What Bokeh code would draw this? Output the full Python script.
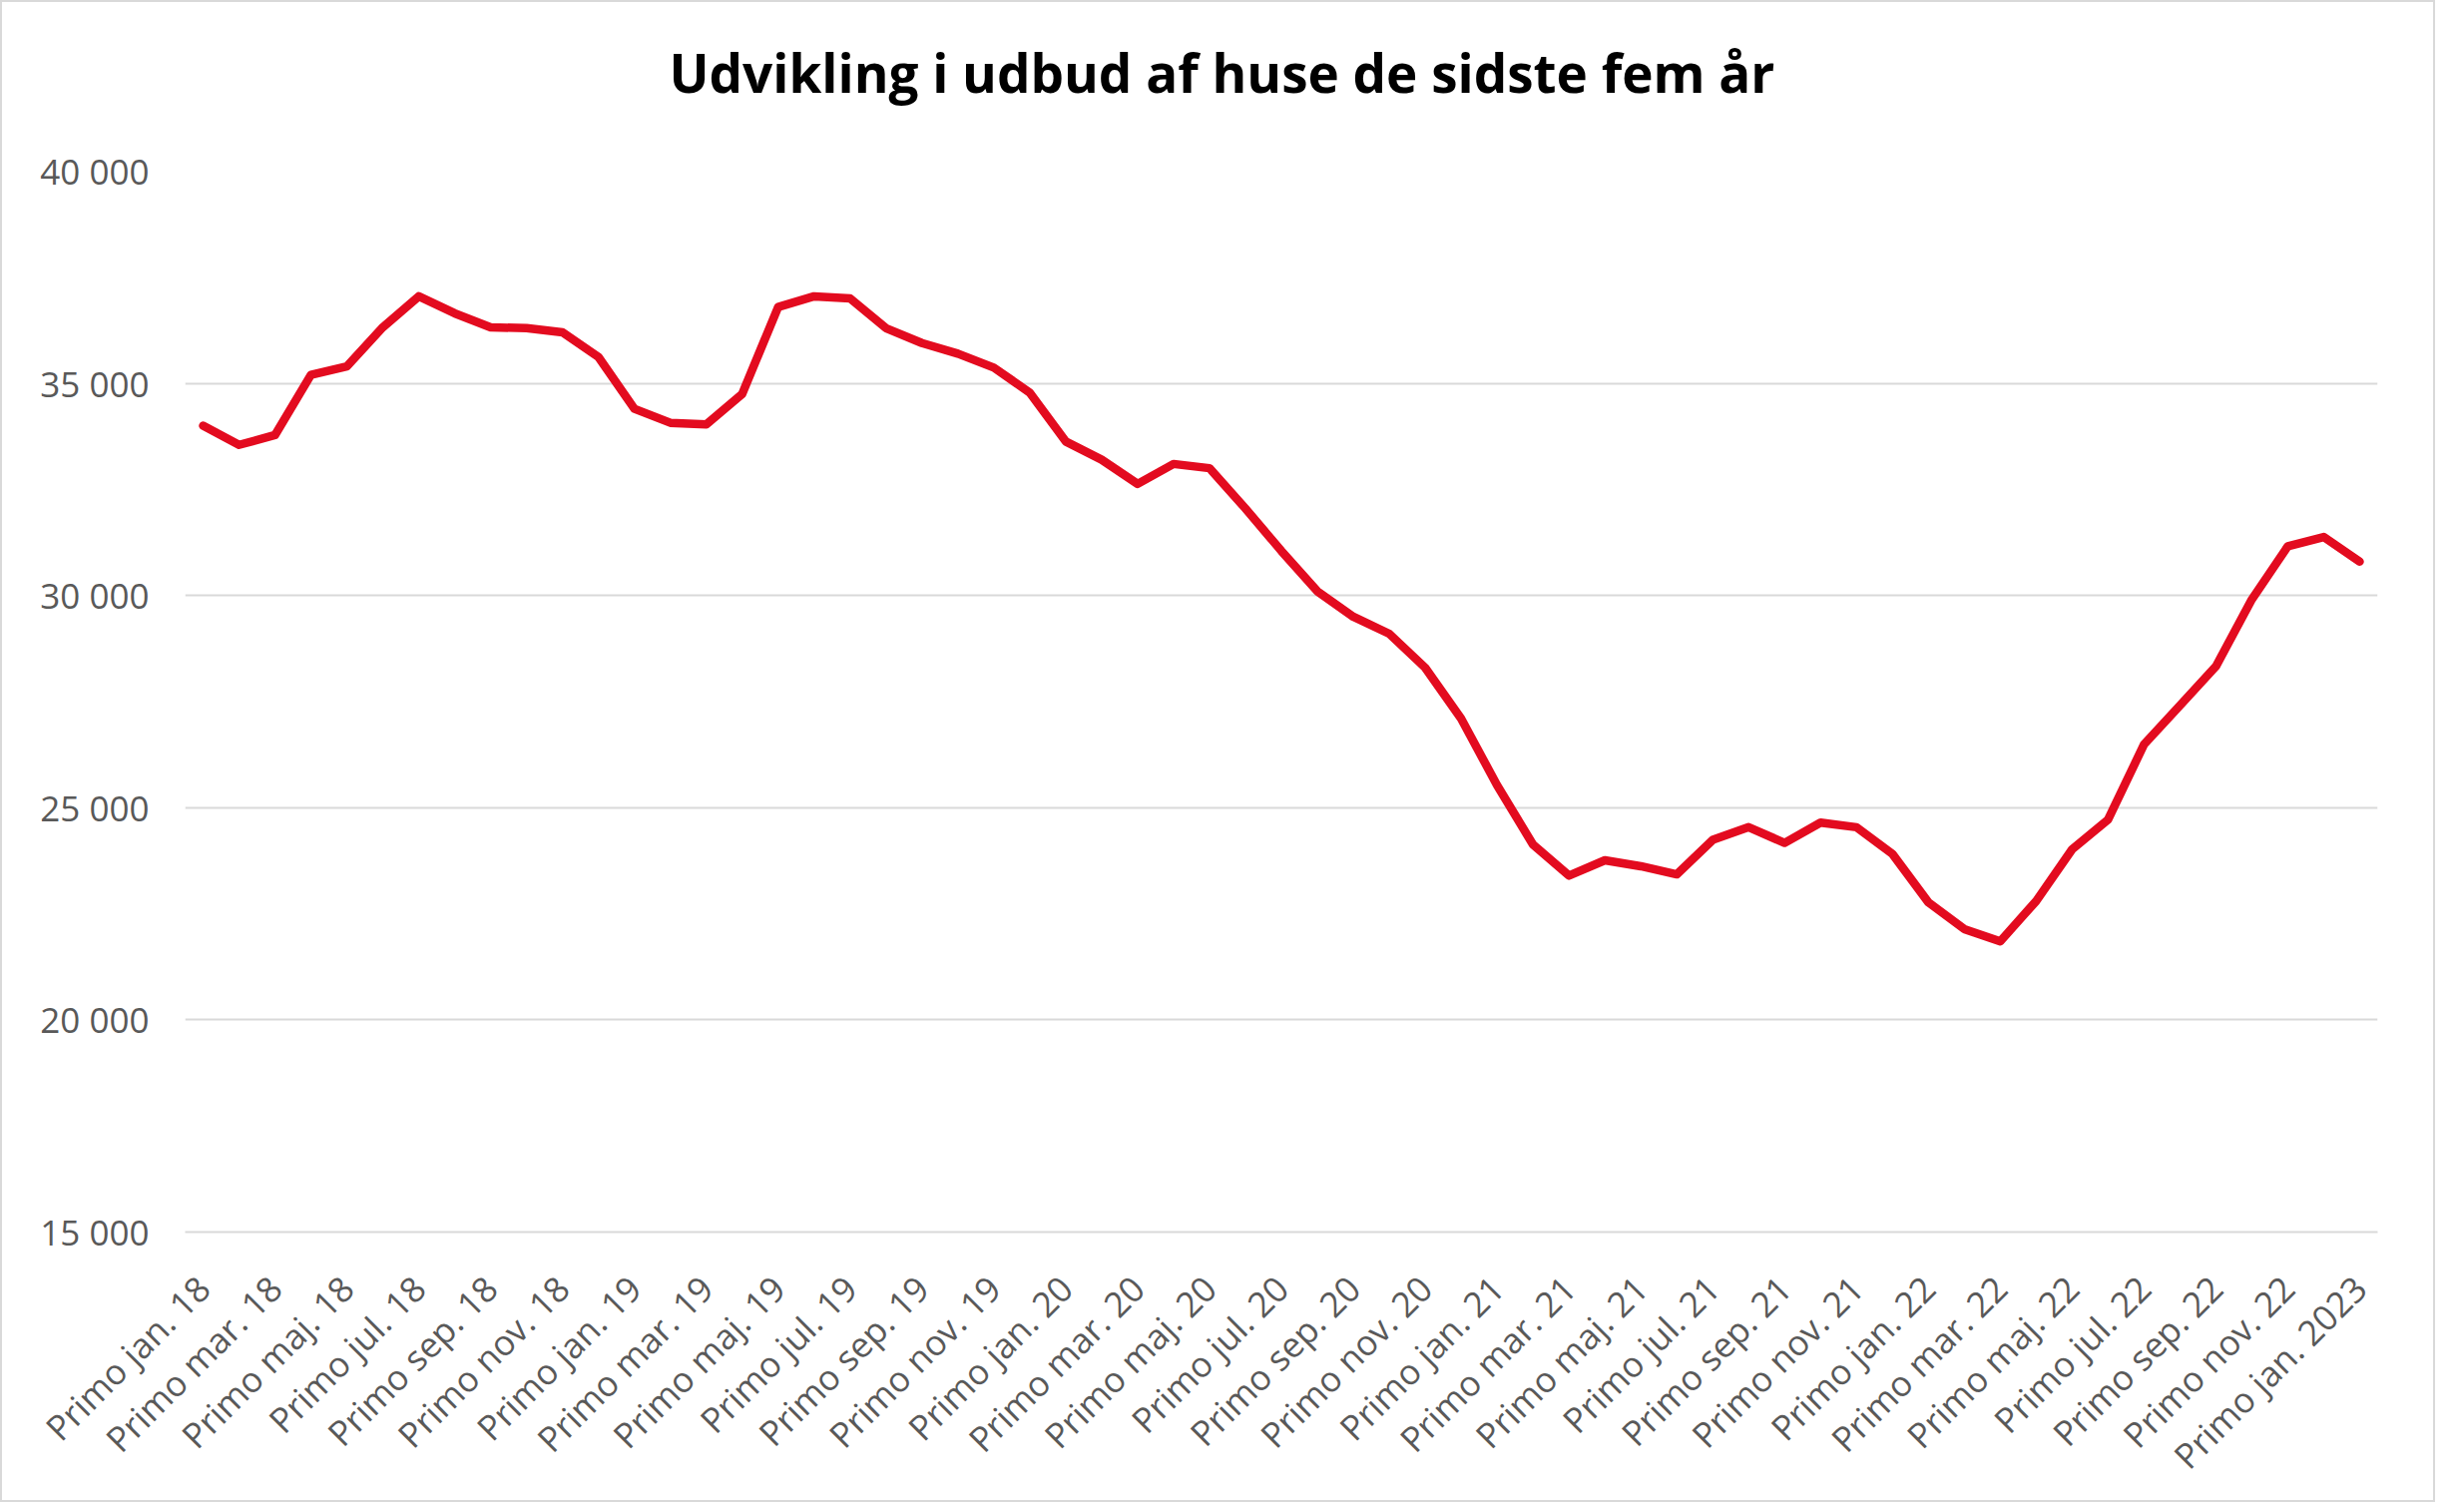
import math
from bokeh.plotting import figure
from bokeh.models import FixedTicker, ColumnDataSource, Title
from bokeh.embed import file_html
from bokeh.resources import INLINE

# ---- data ----
months = ["jan.", "feb.", "mar.", "apr.", "maj.", "jun.", "jul.", "aug.", "sep.", "okt.", "nov.", "dec."]
periods = [f"Primo {m} {y}" for y in ["18", "19", "20", "21", "22"] for m in months] + ["Primo jan. 2023"]

values = [
    34000, 33550, 33780, 35200, 35400, 36320, 37050, 36650, 36320, 36300, 36200, 35620,
    34400, 34070, 34030, 34750, 36800, 37050, 37000, 36300, 35950, 35700, 35370, 34780,
    33630, 33200, 32630, 33100, 33000, 32050, 31050, 30100, 29500, 29100, 28300, 27100,
    25530, 24130, 23400, 23760, 23620, 23430, 24240, 24540, 24170, 24650, 24540, 23910,
    22770, 22140, 21850, 22800, 24020, 24720, 26490, 27410, 28330, 29910, 31160, 31380,
    30800,
]

y_ticks = [15000, 20000, 25000, 30000, 35000, 40000]
y_tick_labels = ["15 000", "20 000", "25 000", "30 000", "35 000", "40 000"]

title_text = "Udvikling i udbud af huse de sidste fem år"

# ---- chart ----
W, H = 2440, 1505
idx = list(range(len(values)))
src = ColumnDataSource(dict(x=idx, y=values, label=periods))

p = figure(
    width=W, height=H,
    x_range=(-0.5, len(values) - 0.5), y_range=(15000, 40000),
    output_backend="svg", toolbar_location=None,
    min_border_left=183, min_border_right=60, min_border_top=169, min_border_bottom=273,
)
p.styles = {"border": "2px solid #d9d9d9", "box-sizing": "border-box"}

# spacer between the frame and the title
p.add_layout(Title(text=" ", text_font_size="1px", standoff=60), "above")

p.title.text = title_text
p.title.align = "left"
p.title.offset = 485
p.title.text_font = "Open Sans"
p.title.text_font_style = "bold"
p.title.text_font_size = "53px"
p.title.text_color = "#000000"
p.title.standoff = 0

p.line("x", "y", source=src, line_color="#E30B1F", line_width=8.5, line_join="round", line_cap="round")

# x axis
tick_pos = list(range(0, len(values), 2))
p.xaxis.ticker = FixedTicker(ticks=tick_pos)
p.xaxis.major_label_overrides = {i: periods[i] for i in tick_pos}
p.xaxis.major_label_orientation = math.pi / 4
p.xaxis.major_label_text_font = "Open Sans"
p.xaxis.major_label_text_font_size = "35px"
p.xaxis.major_label_text_color = "#595959"
p.xaxis.major_label_standoff = 44
p.xaxis.axis_line_color = "#d9d9d9"
p.xaxis.axis_line_width = 2
p.xaxis.major_tick_line_color = None
p.xaxis.minor_tick_line_color = None

# y axis
p.yaxis.ticker = FixedTicker(ticks=y_ticks)
p.yaxis.major_label_overrides = {v: l for v, l in zip(y_ticks, y_tick_labels)}
p.yaxis.major_label_text_font = "Open Sans"
p.yaxis.major_label_text_font_size = "35px"
p.yaxis.major_label_text_color = "#595959"
p.yaxis.major_label_standoff = 30
p.yaxis.axis_line_color = None
p.yaxis.major_tick_line_color = None
p.yaxis.minor_tick_line_color = None

p.xgrid.grid_line_color = None
p.ygrid.grid_line_color = "#d9d9d9"
p.ygrid.grid_line_width = 2
p.outline_line_color = None
p.background_fill_color = "white"
p.border_fill_color = "white"

open("out.html", "w").write(file_html(p, INLINE))
